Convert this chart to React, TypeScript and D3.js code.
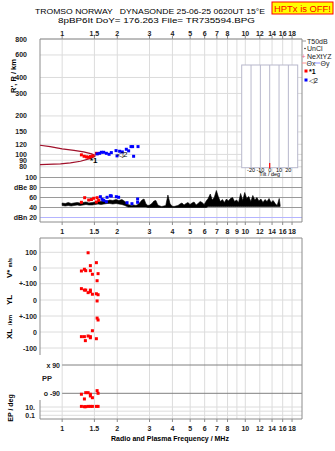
import React from "react";
import * as d3 from "d3";

// ---------- data ----------
const freqTicksTop = [1, 1.5, 2, 3, 4, 5, 6, 7, 8, 10, 12, 14, 16, 18];
const freqTicksMid = [1, 1.5, 2, 3, 4, 5, 6, 7, 8, 9, 10, 12, 14, 16, 18];
const freqTicksBottom = [1, 1.5, 2, 3, 4, 5, 6, 7, 8, 10, 12, 14, 16, 18];
const gridFreqs = [1, 1.5, 2, 3, 4, 5, 6, 7, 8, 9, 10, 12, 14, 16, 18];
const heightTicks = [800, 600, 400, 300, 200, 150, 120, 100, 90, 80];
const dbTicks = [100, 80, 60, 40];
const dbTickLabels = ["100", "dBe 80", "60", "40"];
const tiltTicks = [-20, -10, 0, 10, 20];

// model profile lines (freq MHz, height km)
const modelUpperF = [0.757, 0.86, 1.0, 1.16, 1.31, 1.45, 1.52];
const modelUpperH = [118, 115, 110.6, 107.5, 104.7, 101, 98];
const modelLowerF = [0.757, 0.98, 1.11, 1.26, 1.43, 1.52];
const modelLowerH = [83.3, 84.3, 85.8, 88.4, 93, 97.3];

// echoes: mode *1 (red) and mode <2 (blue)
const redF = [1.274, 1.318, 1.357, 1.386, 1.426, 1.468, 1.538, 1.563];
const redH = [99.2, 96.7, 95.7, 95, 96.2, 97.4, 102, 101.4];
const blueF = [1.552, 1.603, 1.638, 1.686, 1.744, 1.804, 1.856, 1.969, 1.994, 2.06, 2.131, 2.241, 2.307, 2.377, 2.425, 2.456, 2.596];
const blueH = [101, 102, 103.9, 103.9, 102, 100.2, 103.3, 107.1, 97.4, 105.8, 104.6, 109.7, 106.6, 115.1, 115.1, 96.7, 115.1];

// amplitudes dB
const redDbF = [1.274, 1.328, 1.396, 1.445, 1.487, 1.552, 1.583, 1.538];
const redDb = [50.4, 59.6, 55, 56, 58.4, 59.6, 54.4, 51];
const blueDbF = [1.617, 1.652, 1.686, 1.759, 1.833, 1.856, 1.976, 2.034, 2.261, 2.405, 2.583, 2.583, 1.744];
const blueDb = [61.6, 56.4, 54.4, 60.4, 63.6, 63, 61.6, 60.4, 49.6, 47.6, 57, 50.4, 51.6];

// noise trace (freq MHz, top dB, bottom dB)
const noiseFreq = [1.00, 1.04, 1.08, 1.12, 1.16, 1.21, 1.25, 1.30, 1.35, 1.40, 1.46, 1.51, 1.57, 1.63, 1.69, 1.76, 1.82, 1.89, 1.97, 2.04, 2.12, 2.20,
  2.29, 2.34, 2.40, 2.46, 2.53, 2.59, 2.66, 2.73, 2.80, 2.87, 2.94, 3.01, 3.09, 3.17, 3.25, 3.33, 3.42, 3.50, 3.59, 3.68, 3.78, 3.88, 3.97, 4.08, 4.18,
  4.29, 4.40, 4.51, 4.63, 4.75, 4.87, 4.99, 5.12, 5.25, 5.39, 5.52, 5.67, 5.81, 5.96, 6.12, 6.27, 6.44, 6.60, 6.77, 6.95, 7.12, 7.31, 7.50, 7.69, 7.89,
  8.09, 8.30, 8.52, 8.74, 8.96, 9.19, 9.43, 9.68, 9.93, 10.18, 10.45, 10.72, 10.99, 11.28, 11.57, 11.87, 12.17, 12.49, 12.81, 13.14, 13.48, 13.83, 14.19,
  14.56, 14.93, 15.32, 15.5];
const noiseTop = [49, 48, 50, 48, 49, 50, 49, 50, 51, 49, 50, 51, 53, 52, 54, 53, 55, 54, 56, 54, 56, 52,
  46, 45, 44, 45, 44, 46, 50, 55, 57, 47, 44, 45, 48, 53, 54, 45, 43, 42, 43, 44, 65, 48, 43, 42, 43,
  44, 47, 49, 45, 48, 50, 46, 49, 51, 45, 48, 52, 50, 46, 53, 58, 67, 55, 60, 74, 62, 52, 56, 50, 57,
  53, 58, 60, 52, 55, 50, 68, 54, 70, 58, 62, 52, 64, 55, 60, 53, 57, 50, 56, 52, 58, 50, 54,
  48, 44, 58, 45];
const noiseBot = [44, 43, 44, 43, 44, 45, 44, 45, 46, 45, 45, 46, 47, 46, 47, 48, 48, 47, 48, 47, 46, 44,
  41, 41, 41, 41, 41, 41, 41, 41, 41, 41, 40, 40, 40, 40, 40, 40, 40, 40, 40, 40, 40, 40, 40, 40, 40,
  40, 40, 40, 40, 40, 40, 40, 40, 40, 40, 40, 40, 40, 40, 40, 42, 42, 42, 42, 42, 42, 42, 42, 42, 42,
  42, 42, 42, 42, 42, 42, 42, 42, 42, 42, 42, 42, 42, 42, 42, 42, 42, 42, 42, 42, 42, 42, 42,
  42, 42, 42, 42];

// lower panel parameters (mode *1)
const vF = [1.386, 1.538, 1.426, 1.323, 1.274, 1.345, 1.426, 1.463, 1.571, 1.552];
const vVal = [97, 34, 15, -8, -19, -17, -17, -40, -36, -81];
const ylF = [1.274, 1.323, 1.345, 1.426, 1.426, 1.386, 1.463, 1.538, 1.571, 1.552];
const ylVal = [71, 62, 62, 62, 52, 46, 36, 39, 33, -6];
const xlF = [1.552, 1.571, 1.463, 1.386, 1.274, 1.323, 1.426, 1.426, 1.538, 1.339];
const xlVal = [87, 75, 8, -25, -29, -29, -29, -36, -42, -54];
const ppF = [1.552, 1.345, 1.386, 1.274, 1.426, 1.571, 1.426, 1.463, 1.323];
const ppVal = [-73, -86, -86, -96, -96, -90, -107, -118, -126];
const epF = [1.274, 1.323, 1.345, 1.386, 1.426, 1.463, 1.538, 1.571];
const epVal = [14, 11.8, 11.8, 14, 14, 14, 14, 14];

const FONT = "'Liberation Sans', Arial, sans-serif";

export default function App() {
  const L = 40, R = 302;
  const x = d3.scaleLog().domain([0.757, 20.4]).range([L, R]);
  const yH = d3.scaleLog().domain([800, 69]).range([39, 175]);
  const yDb = d3.scaleLinear().domain([100, 20]).range([177.5, 217.5]);
  const yV = d3.scaleLinear().domain([100, -100]).range([252.3, 283.7]);
  const yYL = d3.scaleLinear().domain([100, -100]).range([284, 316]);
  const yXL = d3.scaleLinear().domain([100, -100]).range([316, 348]);
  const yPP = d3.scaleLinear().domain([90, -90]).range([365, 393.3]);
  const yEP = d3.scaleLog().domain([10, 0.1]).range([407, 415.3]);
  const xTilt = d3.scaleLinear().domain([-30, 30]).range([241.7, 297.7]);

  const topY = 39, dbBot = 222, lowTop = 238, lowBot = 419;
  const grid = "#dcdcdc";
  const frame = "#8c8c8c";
  const dark = "#9a9a9a";

  const line = d3.line<[number, number]>();
  const upper = line(modelUpperF.map((f, i) => [x(f), yH(modelUpperH[i])]));
  const lower = line(modelLowerF.map((f, i) => [x(f), yH(modelLowerH[i])]));
  const noiseArea = d3
    .area<number>()
    .x((_, i) => x(noiseFreq[i]))
    .y0((_, i) => yDb(noiseBot[i]))
    .y1((_, i) => yDb(noiseTop[i]))(noiseFreq);

  const sq = (cx: number, cy: number, c: string, k: string) => (
    <rect key={k} x={cx - 1.5} y={cy - 1.5} width={3} height={3} fill={c} />
  );

  const tickLabel = { fontFamily: FONT, fontSize: 7, fill: "#222", fontWeight: 700 as const };

  return (
    <svg width={335} height={451} style={{ position: "absolute", left: 0, top: 0, background: "#fff" }}>
      {/* title */}
      <text x={150} y={14.2} textAnchor="middle" fontFamily={FONT} fontSize={7.6} textLength={230} lengthAdjust="spacingAndGlyphs" style={{ whiteSpace: "pre" }}>
        {"TROMSO NORWAY   DYNASONDE 25-06-25 0620UT 15°E"}
      </text>
      <text x={156.5} y={23} textAnchor="middle" fontFamily={FONT} fontSize={7.6} textLength={197} lengthAdjust="spacingAndGlyphs">
        8pBP6It DoY= 176.263 File= TR735594.BPG
      </text>
      <rect x={272} y={2} width={61} height={12} fill="#ffff00" stroke="#ff0000" strokeWidth={1} />
      <text x={302.5} y={11.5} textAnchor="middle" fontFamily={FONT} fontSize={8.5} fill="#ff0000" textLength={57} lengthAdjust="spacingAndGlyphs">
        HPTx is OFF!
      </text>

      {/* vertical grid */}
      {gridFreqs.map((f) => (
        <g key={"vg" + f}>
          <line x1={x(f)} x2={x(f)} y1={topY} y2={dbBot} stroke={grid} />
          <line x1={x(f)} x2={x(f)} y1={lowTop} y2={lowBot} stroke={grid} />
        </g>
      ))}
      {/* top panel horizontal grid */}
      {heightTicks.map((h) => (
        <line key={"hg" + h} x1={L} x2={R} y1={yH(h)} y2={yH(h)} stroke={grid} />
      ))}
      {/* dB panel lines */}
      {dbTicks.map((d) => (
        <line key={"db" + d} x1={L} x2={R} y1={yDb(d)} y2={yDb(d)} stroke={dark} />
      ))}
      <line x1={L} x2={R} y1={yDb(20)} y2={yDb(20)} stroke="#b4b4ff" />

      {/* lower panel grid */}
      {[100, 0, -100].map((v) => (
        <line key={"vv" + v} x1={L} x2={R} y1={yV(v)} y2={yV(v)} stroke={grid} />
      ))}
      {[0, -100].map((v) => (
        <line key={"yl" + v} x1={L} x2={R} y1={yYL(v)} y2={yYL(v)} stroke={grid} />
      ))}
      {[0, -100].map((v) => (
        <line key={"xl" + v} x1={L} x2={R} y1={yXL(v)} y2={yXL(v)} stroke={grid} />
      ))}
      {[90, -90].map((v) => (
        <line key={"pp" + v} x1={x(1)} x2={R} y1={yPP(v)} y2={yPP(v)} stroke="#808080" />
      ))}
      {[10, 1, 0.1].map((v) => (
        <line key={"ep" + v} x1={L} x2={R} y1={yEP(v)} y2={yEP(v)} stroke={grid} />
      ))}

      {/* frames */}
      <line x1={L} x2={R} y1={topY} y2={topY} stroke={frame} />
      <line x1={L} x2={L} y1={topY} y2={dbBot} stroke={frame} />
      <line x1={R} x2={R} y1={topY} y2={dbBot} stroke={frame} />
      <line x1={L} x2={R} y1={dbBot} y2={dbBot} stroke={frame} />
      <line x1={L} x2={R} y1={lowTop} y2={lowTop} stroke={frame} />
      <line x1={L} x2={L} y1={lowTop} y2={355} stroke={frame} />
      <line x1={L} x2={L} y1={400} y2={lowBot} stroke={frame} />
      <line x1={R} x2={R} y1={lowTop} y2={lowBot} stroke={frame} />
      <line x1={L} x2={R} y1={lowBot} y2={lowBot} stroke={frame} />

      {/* freq ticks & labels */}
      {freqTicksTop.map((f) => (
        <g key={"tt" + f}>
          <line x1={x(f)} x2={x(f)} y1={topY - 3} y2={topY} stroke={frame} />
          <text x={x(f)} y={35.5} textAnchor="middle" {...tickLabel}>{f}</text>
        </g>
      ))}
      {freqTicksMid.map((f) => (
        <g key={"tm" + f}>
          <line x1={x(f)} x2={x(f)} y1={dbBot} y2={dbBot + 3} stroke={frame} />
          <text x={x(f)} y={234} textAnchor="middle" {...tickLabel}>{f}</text>
        </g>
      ))}
      {freqTicksBottom.map((f) => (
        <g key={"tb" + f}>
          <line x1={x(f)} x2={x(f)} y1={lowBot} y2={lowBot + 3} stroke={frame} />
          <text x={x(f)} y={431} textAnchor="middle" {...tickLabel}>{f}</text>
        </g>
      ))}

      {/* height labels */}
      {heightTicks.map((h) => (
        <text key={"hl" + h} x={27} y={yH(h) + 2.5} textAnchor="end" {...tickLabel}>{h}</text>
      ))}
      <text transform="translate(16,76) rotate(-90)" textAnchor="middle" fontFamily={FONT} fontSize={7.5} fontWeight={700}>
        R', R / km
      </text>

      {/* model lines */}
      <path d={upper ?? ""} fill="none" stroke="#a0102a" strokeWidth={1.2} />
      <path d={lower ?? ""} fill="none" stroke="#a0102a" strokeWidth={1.2} />

      {/* echoes */}
      {redF.map((f, i) => sq(x(f), yH(redH[i]), "#ff0000", "r" + i))}
      {blueF.map((f, i) => sq(x(f), yH(blueH[i]), "#0000ff", "b" + i))}
      <text x={90} y={163} fontFamily={FONT} fontSize={8} fontWeight={700}>*1</text>
      <text x={117} y={157} fontFamily={FONT} fontSize={8}>◁2</text>

      {/* tilt box */}
      <rect x={xTilt(-30)} y={65} width={xTilt(30) - xTilt(-30)} height={102.7} fill="#fff" stroke="#b8b8cc" />
      {tiltTicks.map((t) => (
        <line key={"tl" + t} x1={xTilt(t)} x2={xTilt(t)} y1={65} y2={167.7} stroke="#b8b8cc" />
      ))}
      <line x1={xTilt(0)} x2={xTilt(0)} y1={163} y2={168} stroke="#ff0000" strokeWidth={1.2} />
      {tiltTicks.map((t) => (
        <text key={"tt2" + t} x={xTilt(t)} y={171.5} textAnchor="middle" fontFamily={FONT} fontSize={5.5}>{t}</text>
      ))}
      <text x={xTilt(0)} y={176} textAnchor="middle" fontFamily={FONT} fontSize={5.5}>Tilt / deg</text>

      {/* dB panel */}
      {dbTicks.map((d, i) => (
        <text key={"dl" + d} x={37} y={yDb(d) + 2.5} textAnchor="end" {...tickLabel}>{dbTickLabels[i]}</text>
      ))}
      <text x={37} y={yDb(20) + 2.5} textAnchor="end" {...tickLabel}>dBn 20</text>
      <path d={noiseArea ?? ""} fill="#000" stroke="#000" strokeWidth={0.6} />
      {redDbF.map((f, i) => sq(x(f), yDb(redDb[i]), "#ff0000", "rd" + i))}
      {blueDbF.map((f, i) => sq(x(f), yDb(blueDb[i]), "#0000ff", "bd" + i))}

      {/* lower panel labels */}
      <text x={37} y={yV(100) + 2.5} textAnchor="end" {...tickLabel}>100</text>
      <text x={37} y={yV(0) + 2.5} textAnchor="end" {...tickLabel}>0</text>
      <text x={37} y={yV(-100) + 2.5} textAnchor="end" {...tickLabel}>+-100</text>
      <text x={37} y={yYL(0) + 2.5} textAnchor="end" {...tickLabel}>0</text>
      <text x={37} y={yYL(-100) + 2.5} textAnchor="end" {...tickLabel}>+-100</text>
      <text x={37} y={yXL(0) + 2.5} textAnchor="end" {...tickLabel}>0</text>
      <text x={37} y={yXL(-100) + 2.5} textAnchor="end" {...tickLabel}>-100</text>
      <text transform="translate(12,268) rotate(-90)" textAnchor="middle" fontFamily={FONT} fontSize={8} fontWeight={700}>
        V* <tspan fontSize={5.5}>m/s</tspan>
      </text>
      <text transform="translate(12,300) rotate(-90)" textAnchor="middle" fontFamily={FONT} fontSize={8} fontWeight={700}>YL</text>
      <text transform="translate(12,320) rotate(-90)" textAnchor="middle" fontFamily={FONT} fontSize={6} fontWeight={700}>/km</text>
      <text transform="translate(12,334) rotate(-90)" textAnchor="middle" fontFamily={FONT} fontSize={8} fontWeight={700}>XL</text>
      <text x={60} y={yPP(90) + 2.5} textAnchor="end" {...tickLabel}>x 90</text>
      <text x={60} y={yPP(-90) + 2.5} textAnchor="end" {...tickLabel}>o -90</text>
      <text x={42} y={381} {...tickLabel} fontSize={7.5}>PP</text>
      <text x={35} y={yEP(10) + 2.5} textAnchor="end" {...tickLabel}>10.</text>
      <text x={35} y={yEP(0.1) + 2.5} textAnchor="end" {...tickLabel}>0.1</text>
      <text transform="translate(13,408) rotate(-90)" textAnchor="middle" fontFamily={FONT} fontSize={7} fontWeight={700}>EP / deg</text>

      {vF.map((f, i) => sq(x(f), yV(vVal[i]), "#ff0000", "v" + i))}
      {ylF.map((f, i) => sq(x(f), yYL(ylVal[i]), "#ff0000", "y" + i))}
      {xlF.map((f, i) => sq(x(f), yXL(xlVal[i]), "#ff0000", "x" + i))}
      {ppF.map((f, i) => sq(x(f), yPP(ppVal[i]), "#ff0000", "p" + i))}
      {epF.map((f, i) => sq(x(f), yEP(epVal[i]), "#ff0000", "e" + i))}

      <text x={170} y={441} textAnchor="middle" fontFamily={FONT} fontSize={7} fontWeight={700}>
        Radio and Plasma Frequency / MHz
      </text>

      {/* legend */}
      <g fontFamily={FONT} fontSize={7}>
        <line x1={302} x2={306} y1={41} y2={41} stroke="#999" />
        <text x={307} y={43.5} fill="#222">T50dB</text>
        <circle cx={305} cy={48.5} r={0.7} fill="#000" />
        <text x={307} y={51} fill="#222">UnCl</text>
        <text x={301.5} y={59} fill="#f07090">+</text>
        <text x={307} y={58.5} fill="#222">NeXtYZ</text>
        <line x1={302} x2={306} y1={63} y2={63} stroke="#ff9090" />
        <text x={306.5} y={65.5} fill="#222">Θx</text>
        <line x1={315} x2={320} y1={63} y2={63} stroke="#9090ff" />
        <text x={320.5} y={65.5} fill="#222">Θy</text>
        <rect x={304.5} y={69.5} width={3} height={3} fill="#ff0000" />
        <text x={309} y={74} fill="#000" fontWeight={700}>*1</text>
        <rect x={304.5} y={78.5} width={3} height={3} fill="#0000ff" />
        <text x={309} y={83} fill="#000">◁2</text>
      </g>
    </svg>
  );
}
